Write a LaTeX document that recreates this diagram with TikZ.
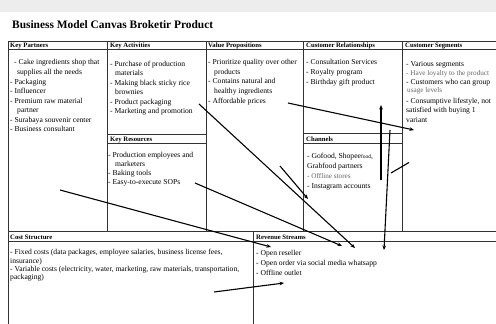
\documentclass[tikz,border=0pt]{standalone}
\usepackage{fontspec}
\setmainfont{Liberation Serif}
\usetikzlibrary{arrows.meta}
\begin{document}
\begin{tikzpicture}[x=1pt,y=-1pt,
 grid/.style={draw=black!80, line width=0.75pt},
 hdr/.style={anchor=base west, inner sep=0, font=\bfseries\fontsize{6.7}{8}\selectfont},
 txt/.style={anchor=base west, inner sep=0, font=\fontsize{7.6}{9}\selectfont},
 sml/.style={anchor=base west, inner sep=0, font=\fontsize{7.2}{9}\selectfont, text=black!60},
 arr/.style={draw=black, line width=1.1pt, -{Stealth[length=4.5pt,width=3.6pt]}},
 plain/.style={draw=black, line width=1.1pt},
]
\useasboundingbox (0,0) rectangle (496,324);
\fill[white] (0,0) rectangle (496,324);
\fill[black!7] (0,0) rectangle (496,12);
\node[anchor=base west, inner sep=0, font=\bfseries\fontsize{11.4}{13}\selectfont] (title) at (12,28) {Business Model Canvas Broketir Product};

% grid
\draw[grid] (8,41) -- (496,41);
\draw[grid] (8,49) -- (496,49);
\draw[grid] (8,41) -- (8,324);
\draw[grid] (107,41) -- (107,231);
\draw[grid] (206,41) -- (206,231);
\draw[grid] (303,41) -- (303,231);
\draw[grid] (402,41) -- (402,231);
\draw[grid] (107,134) -- (206,134);
\draw[grid] (107,143) -- (206,143);
\draw[grid] (303,133) -- (402,133);
\draw[grid] (303,143) -- (402,143);
\draw[grid] (8,231) -- (496,231);
\draw[grid] (8,241) -- (496,241);
\draw[grid] (253,231) -- (253,324);

% headers
\node[hdr] (hkp) at (10,47.5) {Key Partners};
\node[hdr] (hka) at (110,47.5) {Key Activities};
\node[hdr] (hvp) at (208,47.5) {Value Propositions};
\node[hdr] (hcr) at (306,47.5) {Customer Relationships};
\node[hdr] (hcs) at (405,47.5) {Customer Segments};
\node[hdr] (hkr) at (110,141) {Key Resources};
\node[hdr] (hch) at (306,141) {Channels};
\node[hdr] (hco) at (10,239.5) {Cost Structure};
\node[hdr] (hrs) at (256,239.5) {Revenue Streams};

% key partners
\node[txt] (kp1) at (14,64.7) {- Cake ingredients shop that};
\node[txt] (kp2) at (17,74.3) {supplies all the needs};
\node[txt] (kp3) at (10,84) {- Packaging};
\node[txt] (kp4) at (10,93.3) {- Influencer};
\node[txt] (kp5) at (10,103) {- Premium raw material};
\node[txt] (kp6) at (17,112.5) {partner};
\node[txt] (kp7) at (10,122) {- Surabaya souvenir center};
\node[txt] (kp8) at (10,131.3) {- Business consultant};

% key activities
\node[txt] (ka1) at (110,66.3) {- Purchase of production};
\node[txt] (ka2) at (115,75.5) {materials};
\node[txt] (ka3) at (110,85.3) {- Making black sticky rice};
\node[txt] (ka4) at (115,94.7) {brownies};
\node[txt] (ka5) at (110,104.5) {- Product packaging};
\node[txt] (ka6) at (110,113.7) {- Marketing and promotion};

% key resources
\node[txt] (kr1) at (108,157) {- Production employees and};
\node[txt] (kr2) at (115,166) {marketers};
\node[txt] (kr3) at (108,175) {- Baking tools};
\node[txt] (kr4) at (108,184) {- Easy-to-execute SOPs};

% value propositions
\node[txt] (vp1) at (208,64.7) {- Prioritize quality over other};
\node[txt] (vp2) at (214,74.3) {products};
\node[txt] (vp3) at (208,83.7) {- Contains natural and};
\node[txt] (vp4) at (214,93.5) {healthy ingredients};
\node[txt] (vp5) at (208,103) {- Affordable prices};

% customer relationships
\node[txt] (cr1) at (306,64.7) {- Consultation Services};
\node[txt] (cr2) at (306,74.3) {- Royalty program};
\node[txt] (cr3) at (306,84) {- Birthday gift product};

% customer segments
\node[txt] (cs1) at (406,66) {- Various segments};
\node[sml] (cs2) at (406,75.3) {- Have loyalty to the product};
\node[txt] (cs3) at (406,84) {- Customers who can group};
\node[sml] (cs4) at (407,92.7) {usage levels};
\node[txt] (cs5) at (406,103.7) {- Consumptive lifestyle, not};
\node[txt] (cs6) at (406,112.7) {satisfied with buying 1};
\node[txt] (cs7) at (406,122) {variant};

% channels
\node[txt] (ch1) at (307,158.7) {- Gofood, Shopee{\fontsize{5.5}{6}\selectfont food},};
\node[txt] (ch2) at (307,168) {Grabfood partners};
\node[sml] (ch3) at (307,178) {- Offline stores};
\node[txt] (ch4) at (307,188) {- Instagram accounts};

% cost structure
\node[txt] (co1) at (10,254.7) {- Fixed costs (data packages, employee salaries, business license fees,};
\node[txt] (co2) at (10,263) {insurance)};
\node[txt] (co3) at (10,271) {- Variable costs (electricity, water, marketing, raw materials, transportation,};
\node[txt] (co4) at (10,279.2) {packaging)};

% revenue streams
\node[txt] (rs1) at (256,255.3) {- Open reseller};
\node[txt] (rs2) at (256,265.3) {- Open order via social media whatsapp};
\node[txt] (rs3) at (256,275.3) {- Offline outlet};

% arrow end points
\coordinate (a1s) at (199,104); \coordinate (a1e) at (355,248);
\coordinate (a2s) at (195,183); \coordinate (a2e) at (342,246);
\coordinate (a3s) at (60,190);  \coordinate (a3e) at (271,247);
\coordinate (a4s) at (280,166); \coordinate (a4e) at (308,199);
\coordinate (a5s) at (288,103); \coordinate (a5e) at (414,130);
\coordinate (a6s) at (381,180); \coordinate (a6e) at (381,105);
\coordinate (a7s) at (390,130); \coordinate (a7e) at (384,250);
\coordinate (a8s) at (409,162.5); \coordinate (a8e) at (391,173);
\coordinate (a9s) at (214,292); \coordinate (a9e) at (284,283);

\draw[arr] (a1s) -- (a1e);
\draw[arr] (a2s) -- (a2e);
\draw[arr] (a3s) -- (a3e);
\draw[arr] (a4s) -- (a4e);
\draw[arr] (a5s) -- (a5e);
\draw[arr] (a6s) -- (a6e);
\draw[arr] (a7s) -- (a7e);
\draw[plain] (a8s) -- (a8e);
\draw[arr] (a9s) -- (a9e);
\end{tikzpicture}
\end{document}
